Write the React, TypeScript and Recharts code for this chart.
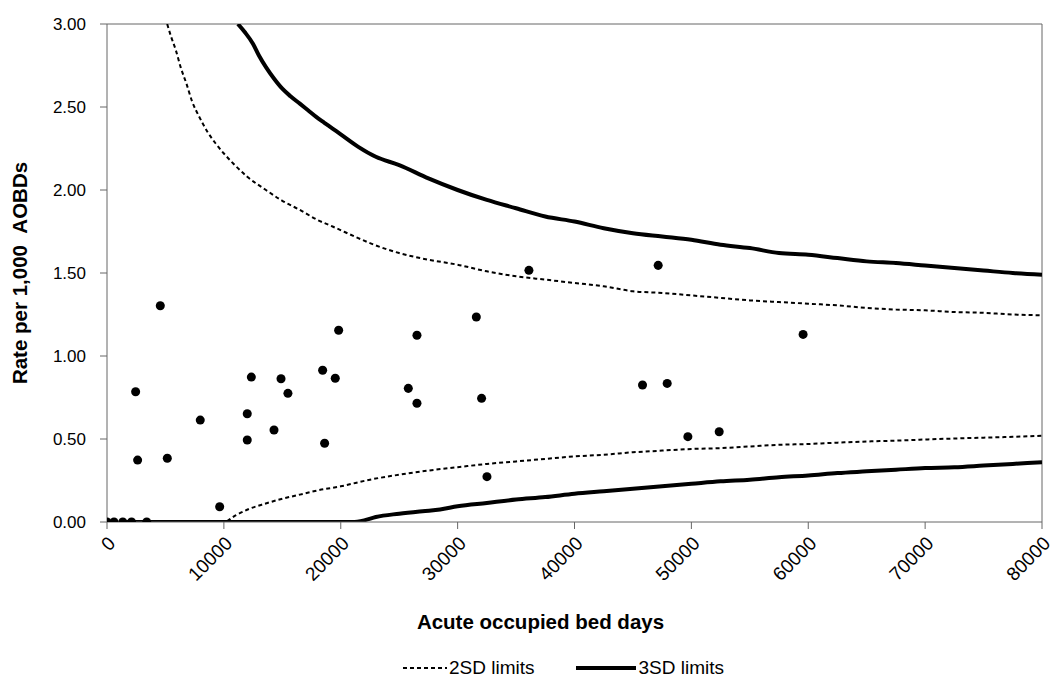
import { ComposedChart, Scatter, Line, XAxis, YAxis, ReferenceLine } from 'recharts';

// hospitals: acute occupied bed days vs rate per 1,000 AOBDs
const bedDays = [
  0, 600, 1350, 2100, 3400, 2450, 2620, 4560, 5160, 7980, 9640, 12000, 12000, 12350, 14290, 14890,
  15480, 18450, 18620, 19530, 19820, 25780, 26520, 26520, 31600, 32050, 32510, 36100, 45820, 47160,
  47930, 49700, 52380, 59560,
];
const rates = [
  0, 0, 0, 0, 0, 0.785, 0.373, 1.303, 0.384, 0.614, 0.092, 0.652, 0.494, 0.873, 0.554, 0.863,
  0.775, 0.914, 0.474, 0.866, 1.155, 0.805, 1.125, 0.715, 1.235, 0.745, 0.273, 1.516, 0.825, 1.546,
  0.835, 0.514, 0.544, 1.13,
];

// 3SD upper limit
const upper3X = [
  11200, 11800, 12500, 13000, 13600, 14300, 15000, 15700, 16500, 17200, 17900, 18600, 19300, 20000,
  21500, 23000, 25000, 27500, 30000, 32500, 35000, 37500, 40000, 42500, 45000, 47500, 50000, 52500,
  55000, 57500, 60000, 62500, 65000, 67500, 70000, 72500, 75000, 77500, 80000,
];
const upper3Y = [
  3.0, 2.95, 2.88, 2.81, 2.74, 2.67, 2.61, 2.565, 2.52, 2.48, 2.44, 2.405, 2.37, 2.335, 2.26, 2.2,
  2.15, 2.07, 2.0, 1.94, 1.89, 1.84, 1.81, 1.77, 1.74, 1.72, 1.7, 1.67, 1.65, 1.62, 1.61, 1.59, 1.57,
  1.56, 1.545, 1.53, 1.515, 1.5, 1.49,
];

// 2SD upper limit
const upper2X = [
  5150, 5500, 5900, 6300, 6800, 7300, 7900, 8600, 9300, 10000, 10800, 12000, 13600, 15000, 16500,
  18000, 19300, 21500, 22500, 25000, 27500, 30000, 32500, 35000, 37500, 40000, 42500, 45000, 47500,
  50000, 52500, 55000, 57500, 60000, 62500, 65000, 67500, 70000, 72500, 75000, 77500, 80000,
];
const upper2Y = [
  3.0, 2.92, 2.84, 2.74, 2.64, 2.53, 2.44, 2.35, 2.28, 2.22, 2.16, 2.08, 2.0, 1.935, 1.88, 1.82, 1.78,
  1.71, 1.68, 1.62, 1.58, 1.55, 1.51, 1.48, 1.46, 1.44, 1.42, 1.39, 1.38, 1.365, 1.35, 1.335, 1.325,
  1.315, 1.305, 1.29, 1.28, 1.275, 1.265, 1.26, 1.25, 1.245,
];

// 2SD lower limit
const lower2X = [
  1300, 10000, 11000, 12200, 13500, 15000, 16500, 18000, 20000, 22500, 25000, 27500, 30000, 32500,
  35000, 37500, 40000, 42500, 45000, 47500, 50000, 52500, 55000, 57500, 60000, 62500, 65000, 67500,
  70000, 72500, 75000, 77500, 80000,
];
const lower2Y = [
  0, 0, 0.04, 0.08, 0.11, 0.14, 0.165, 0.19, 0.215, 0.255, 0.285, 0.31, 0.33, 0.35, 0.365, 0.38, 0.395,
  0.405, 0.42, 0.43, 0.44, 0.445, 0.455, 0.465, 0.47, 0.478, 0.485, 0.49, 0.497, 0.503, 0.508, 0.513,
  0.52,
];

// 3SD lower limit
const lower3X = [
  1300, 21000, 22000, 23000, 25000, 27000, 28500, 30000, 32500, 35000, 37500, 40000, 42500, 45000,
  47500, 50000, 52500, 55000, 57500, 60000, 62500, 65000, 67500, 70000, 72500, 75000, 77500, 80000,
];
const lower3Y = [
  0, 0, 0.01, 0.03, 0.05, 0.065, 0.075, 0.095, 0.115, 0.135, 0.15, 0.17, 0.185, 0.2, 0.215, 0.23,
  0.245, 0.255, 0.27, 0.28, 0.295, 0.305, 0.315, 0.325, 0.33, 0.34, 0.35, 0.36,
];

const xTicks = [0, 10000, 20000, 30000, 40000, 50000, 60000, 70000, 80000];
const yTicks = [0, 0.5, 1, 1.5, 2, 2.5, 3];

const zip = (xs: number[], ys: number[]) => xs.map((x, i) => ({ x, y: ys[i] }));

const FONT = '"Liberation Sans", Arial, sans-serif';
const AXIS = '#666';

const YLabel = ({ viewBox }: any) => {
  const x = viewBox.x + 27;
  const y = viewBox.y + viewBox.height / 2;
  return (
    <text x={x} y={y} transform={`rotate(-90 ${x} ${y})`} textAnchor="middle"
      fontFamily={FONT} fontSize={20.5} fontWeight="bold" fill="#000">
      Rate per 1,000&#160;&#160;AOBDs
    </text>
  );
};

const XLabel = ({ viewBox }: any) => (
  <text x={viewBox.x + viewBox.width / 2 - 34} y={629} textAnchor="middle"
    fontFamily={FONT} fontSize={20.5} fontWeight="bold" fill="#000">
    Acute occupied bed days
  </text>
);

export default function App() {
  const points = zip(bedDays, rates);

  return (
    <div style={{ position: 'absolute', left: 0, top: 0, width: 1054, height: 677, background: '#fff', overflow: 'hidden' }}>
      <ComposedChart width={1054} height={677} margin={{ top: 24, right: 12, bottom: 45, left: 0 }}>
        <XAxis
          type="number"
          dataKey="x"
          domain={[0, 80000]}
          ticks={xTicks}
          allowDataOverflow
          height={110}
          interval={0}
          angle={-45}
          textAnchor="end"
          tick={{ fontFamily: FONT, fontSize: 19, fill: '#000' }}
          tickSize={7}
          tickMargin={6}
          stroke={AXIS}
          label={<XLabel />}
        />
        <YAxis
          type="number"
          dataKey="y"
          domain={[0, 3]}
          ticks={yTicks}
          allowDataOverflow
          width={107}
          tick={{ fontFamily: FONT, fontSize: 17, fill: '#000' }}
          tickSize={7}
          tickMargin={14}
          tickFormatter={(v: number) => v.toFixed(2)}
          stroke={AXIS}
          label={<YLabel />}
        />
        <ReferenceLine y={3} stroke={AXIS} />
        <ReferenceLine x={80000} stroke={AXIS} />
        <Line type="monotone" data={zip(upper2X, upper2Y)} dataKey="y" stroke="#000" strokeWidth={2}
          strokeDasharray="4 3" dot={false} isAnimationActive={false} />
        <Line type="monotone" data={zip(lower2X, lower2Y)} dataKey="y" stroke="#000" strokeWidth={2}
          strokeDasharray="4 3" dot={false} isAnimationActive={false} />
        <Line type="monotone" data={zip(upper3X, upper3Y)} dataKey="y" stroke="#000" strokeWidth={4}
          dot={false} isAnimationActive={false} />
        <Line type="monotone" data={zip(lower3X, lower3Y)} dataKey="y" stroke="#000" strokeWidth={4}
          dot={false} isAnimationActive={false} />
        <Scatter data={points} dataKey="y" fill="#000" shape="circle" isAnimationActive={false}
          legendType="none" />
      </ComposedChart>
      <div style={{ position: 'absolute', left: 403, top: 659, height: 18, display: 'flex', alignItems: 'center',
        fontFamily: FONT, fontSize: 19, lineHeight: '18px', color: '#000', whiteSpace: 'nowrap' }}>
        <svg width={44} height={10}>
          <line x1={0} y1={5} x2={44} y2={5} stroke="#000" strokeWidth={2} strokeDasharray="4 3" />
        </svg>
        <span style={{ marginLeft: 2 }}>2SD limits</span>
        <svg width={60} height={10} style={{ marginLeft: 41 }}>
          <line x1={0} y1={5} x2={60} y2={5} stroke="#000" strokeWidth={4} />
        </svg>
        <span style={{ marginLeft: 3 }}>3SD limits</span>
      </div>
    </div>
  );
}
